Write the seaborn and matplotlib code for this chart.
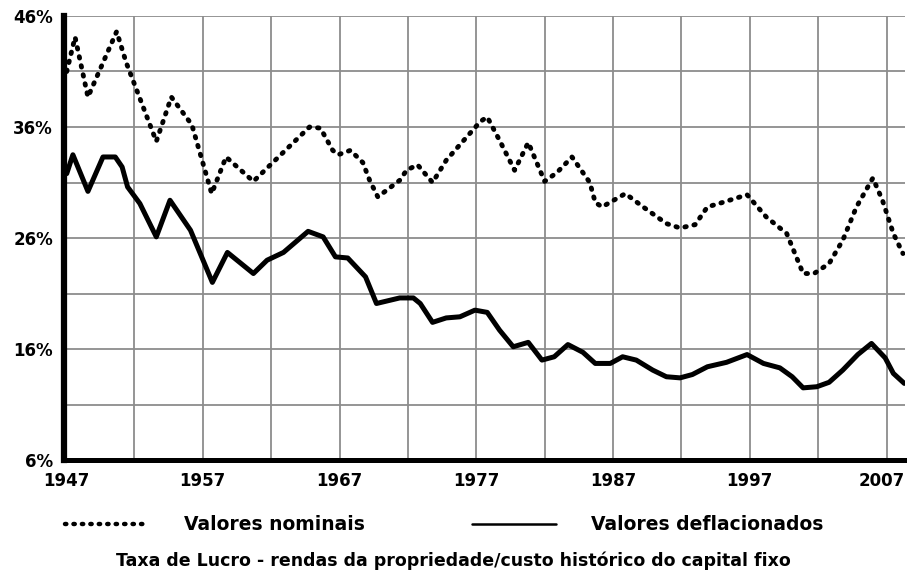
import pandas as pd
import matplotlib
matplotlib.use("Agg")
import matplotlib.pyplot as plt
import matplotlib.transforms as mtransforms
from matplotlib.lines import Line2D
import seaborn as sns

# Taxa de lucro (%)
nominal_years = [1947.05, 1947.66, 1948.6, 1950.7, 1951.4, 1953.6, 1954.7, 1956.2, 1957.65, 1958.7,
                 1960.7, 1961.7, 1964.8, 1965.6, 1966.5, 1966.9, 1967.8, 1968.7, 1969.2, 1969.8,
                 1971.4, 1971.9, 1972.7, 1973.8, 1974.8, 1976.3, 1977.3, 1977.8, 1978.7, 1979.8,
                 1980.8, 1982.0, 1982.9, 1984.0, 1985.3, 1985.7, 1986.2, 1987.9, 1989.2, 1990.9,
                 1991.9, 1993.0, 1993.9, 1995.0, 1996.8, 1998.2, 1999.7, 2000.1, 2000.9, 2001.7,
                 2002.8, 2003.8, 2004.8, 2006.0, 2006.7, 2007.5, 2008.2]
nominal_values = [41.0, 44.1, 38.7, 44.6, 41.8, 34.7, 38.7, 36.2, 30.0, 33.3,
                  31.1, 32.3, 36.0, 35.9, 33.9, 33.5, 33.9, 32.8, 31.2, 29.7,
                  31.2, 32.1, 32.6, 31.0, 33.0, 35.1, 36.5, 36.9, 34.8, 32.1,
                  34.6, 31.1, 31.9, 33.3, 31.0, 29.2, 28.8, 30.0, 28.8, 27.3,
                  26.9, 27.2, 28.8, 29.2, 29.9, 27.9, 26.4, 25.2, 22.8, 22.8,
                  23.7, 25.8, 28.8, 31.4, 29.4, 26.4, 24.6]

deflated_years = [1947.05, 1947.5, 1948.6, 1949.7, 1950.6, 1951.1, 1951.5, 1952.4, 1953.6, 1954.6,
                  1956.1, 1957.7, 1958.8, 1960.7, 1961.7, 1962.9, 1964.7, 1965.8, 1966.7, 1967.6,
                  1968.9, 1969.7, 1971.4, 1972.4, 1972.9, 1973.8, 1974.8, 1975.8, 1976.9, 1977.8,
                  1978.7, 1979.7, 1980.8, 1981.8, 1982.7, 1983.7, 1984.8, 1985.7, 1986.8, 1987.7,
                  1988.7, 1989.9, 1990.9, 1991.9, 1992.8, 1993.9, 1995.3, 1996.8, 1998.0, 1999.2,
                  2000.1, 2000.9, 2001.9, 2002.8, 2003.8, 2004.9, 2005.9, 2006.9, 2007.5, 2008.3]
deflated_values = [31.8, 33.5, 30.2, 33.3, 33.3, 32.4, 30.6, 29.1, 26.1, 29.4,
                   26.7, 22.0, 24.7, 22.8, 24.0, 24.7, 26.6, 26.1, 24.3, 24.2,
                   22.5, 20.1, 20.6, 20.6, 20.1, 18.4, 18.8, 18.9, 19.5, 19.3,
                   17.7, 16.2, 16.6, 15.0, 15.3, 16.4, 15.7, 14.7, 14.7, 15.3,
                   15.0, 14.1, 13.5, 13.4, 13.7, 14.4, 14.8, 15.5, 14.7, 14.3,
                   13.5, 12.5, 12.6, 13.0, 14.1, 15.5, 16.5, 15.2, 13.8, 12.9]

year_ticks = list(range(1947, 2008, 5))
year_labels = [str(y) if (y - 1947) % 10 == 0 else "" for y in year_ticks]
pct_ticks = list(range(6, 47, 5))
pct_labels = [f"{p}%" if (p - 6) % 10 == 0 else "" for p in pct_ticks]

legend_labels = ["Valores nominais", "Valores deflacionados"]
caption = "Taxa de Lucro - rendas da propriedade/custo histórico do capital fixo"

nominal = pd.DataFrame({"ano": nominal_years, "taxa": nominal_values})
deflated = pd.DataFrame({"ano": deflated_years, "taxa": deflated_values})

sns.set_style("white")
plt.rcParams["font.family"] = ["DejaVu Sans"]
plt.rcParams["font.weight"] = "bold"
plt.rcParams["text.color"] = "black"

fig = plt.figure(figsize=(9.07, 5.70), dpi=100)
ax = fig.add_axes([64 / 907, 1 - 460 / 570, (905 - 64) / 907, (460 - 16) / 570])

grid_color = "#8c8c8c"
ax.set_xticks(year_ticks)
ax.set_xticklabels(year_labels)
ax.set_yticks(pct_ticks)
ax.set_yticklabels(pct_labels)
ax.grid(True, color=grid_color, linewidth=1.3)
ax.set_axisbelow(True)

dot_style = (0, (0.3, 1.6))
sns.lineplot(data=nominal, x="ano", y="taxa", ax=ax, color="black", linewidth=3.5,
             estimator=None, sort=False, linestyle=dot_style, dash_capstyle="round")
sns.lineplot(data=deflated, x="ano", y="taxa", ax=ax, color="black", linewidth=3.6,
             estimator=None, sort=False, solid_joinstyle="round", solid_capstyle="round")

ax.set_xlim(1946.85, 2008.35)
ax.set_ylim(6, 46)
ax.set_xlabel("")
ax.set_ylabel("")

sns.despine(ax=ax, top=True, right=True)
ax.spines["left"].set_linewidth(4.5)
ax.spines["bottom"].set_linewidth(3.6)
ax.spines["left"].set_color("black")
ax.spines["bottom"].set_color("black")
ax.tick_params(axis="both", length=0, labelsize=12, colors="black")
ax.tick_params(axis="x", pad=9)
ax.tick_params(axis="y", pad=8)

# o ultimo ano fica encostado na borda direita
last = ax.get_xticklabels()[-1]
last.set_transform(last.get_transform() + mtransforms.ScaledTranslation(-5 / 100, 0, fig.dpi_scale_trans))

handles = [
    Line2D([], [], color="black", linewidth=3.2, linestyle=dot_style, dash_capstyle="round"),
    Line2D([], [], color="black", linewidth=1.8),
]
fig.legend(handles, legend_labels, loc="center left", bbox_to_anchor=(65 / 907, 1 - 525 / 570),
           ncol=2, frameon=False, handlelength=4.5, handletextpad=1.85, columnspacing=5.7,
           borderpad=0, borderaxespad=0, labelcolor="black",
           prop={"size": 13.5, "weight": "bold"})

fig.text(0.5, 1 - 561 / 570, caption, ha="center", va="center", fontsize=12.5,
         fontweight="bold", color="black")

fig.savefig("out.png", dpi=100)
